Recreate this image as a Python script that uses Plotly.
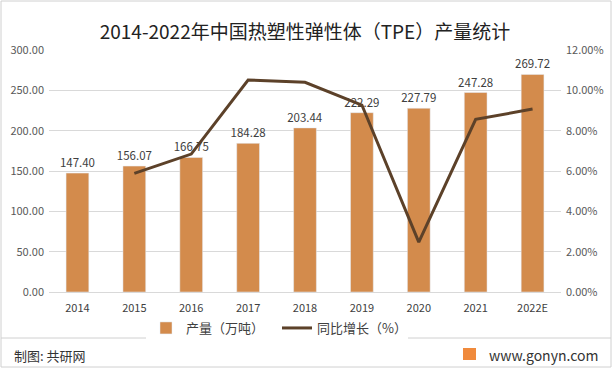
import plotly.graph_objects as go

years = ["2014", "2015", "2016", "2017", "2018", "2019", "2020", "2021", "2022E"]
output = [147.40, 156.07, 166.75, 184.28, 203.44, 222.29, 227.79, 247.28, 269.72]
growth_years = ["2015", "2016", "2017", "2018", "2019", "2020", "2021", "2022E"]
growth = [0.0588, 0.0684, 0.1051, 0.1040, 0.0927, 0.0247, 0.0856, 0.0907]
left_ticks = [0, 50, 100, 150, 200, 250, 300]
right_ticks = [0, 0.02, 0.04, 0.06, 0.08, 0.10, 0.12]

FONT = "Microsoft YaHei, Noto Sans CJK SC, sans-serif"
W, H = 613, 369
L, R, T, B = 49, 52, 50, 77
ph = H - T - B
pw = W - L - R

def py(pix):
    return (H - B - pix) / ph

def px(pix):
    return (pix - L) / pw

fig = go.Figure()
fig.add_trace(go.Bar(
    x=years, y=output, name="产量（万吨）",
    marker=dict(color="#D38B4C"), width=0.4,
    text=[f"{v:.2f}" for v in output], textposition="outside", constraintext="none",
    textfont=dict(size=11.5, color="#404040"), cliponaxis=False,
))
fig.add_trace(go.Scatter(
    x=growth_years, y=growth, name="同比增长（%）", yaxis="y2",
    mode="lines", line=dict(color="#5C4129", width=3),
))

fig.update_layout(
    width=W, height=H,
    margin=dict(l=L, r=R, t=T, b=B, autoexpand=False),
    paper_bgcolor="white", plot_bgcolor="white",
    font=dict(family=FONT, color="#595959", size=11),
    title=dict(text="2014-2022年中国热塑性弹性体（TPE）产量统计", x=305 / W, xanchor="center",
               xref="container", y=1 - 32 / H, yanchor="middle",
               font=dict(size=19, color="#222222")),
    showlegend=True,
    legend=dict(orientation="h", x=px(146), xanchor="left", y=py(328), yanchor="middle",
                font=dict(size=13, color="#404040"), traceorder="normal",
                entrywidth=86),
    xaxis=dict(type="category", showgrid=False, showline=True, linecolor="#D9D9D9",
               ticks="", tickfont=dict(size=11, color="#404040"), ticklabelstandoff=6),
    yaxis=dict(range=[0, 300], tickvals=left_ticks, tickformat=".2f",
               showgrid=True, gridcolor="#D9D9D9", zeroline=False,
               tickfont=dict(size=11, color="#595959"), ticklabelstandoff=4),
    yaxis2=dict(range=[0, 0.12], tickvals=right_ticks, tickformat=".2%",
                overlaying="y", side="right", showgrid=False, zeroline=False,
                tickfont=dict(size=11, color="#595959"), ticklabelstandoff=4),
    shapes=[
        dict(type="rect", xref="paper", yref="paper",
             x0=px(1), x1=px(W - 2), y0=py(H - 2), y1=py(1),
             line=dict(color="#D0D0D0", width=1)),
        dict(type="line", xref="paper", yref="paper",
             x0=px(1), x1=px(W - 2), y0=py(338), y1=py(338),
             line=dict(color="#D0D0D0", width=1)),
        dict(type="rect", xref="paper", yref="paper",
             x0=px(463), x1=px(476), y0=py(360), y1=py(348),
             line=dict(width=0), fillcolor="#F08A3C"),
    ],
    annotations=[
        dict(text="制图: 共研网", xref="paper", yref="paper",
             x=px(12), y=py(355), xanchor="left", yanchor="middle",
             showarrow=False, font=dict(size=13, color="#333333")),
        dict(text="www.gonyn.com", xref="paper", yref="paper",
             x=px(487), y=py(355), xanchor="left", yanchor="middle",
             showarrow=False, font=dict(size=14, color="#333333")),
    ],
)

fig.write_html("out.html", config={"displayModeBar": False},
               post_script="document.body.style.margin='0';document.body.style.overflow='hidden';")
